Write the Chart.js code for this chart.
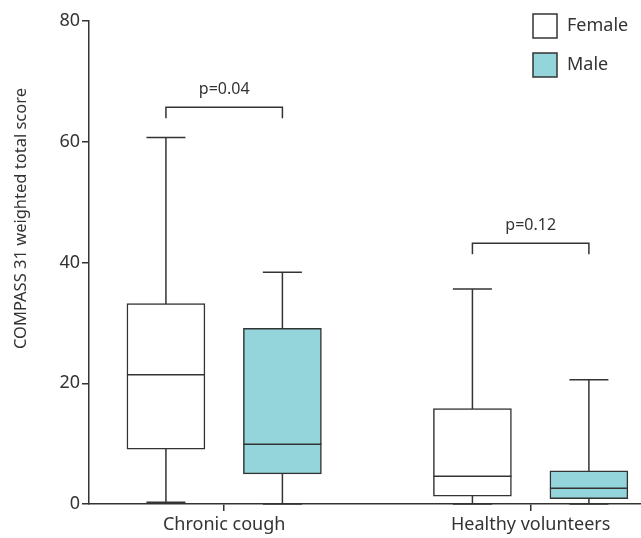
<!DOCTYPE html>
<html>
<head>
<meta charset="utf-8">
<script src="https://cdn.jsdelivr.net/npm/chart.js@4.4.0/dist/chart.umd.min.js"></script>
<style>
	html, body { margin: 0; padding: 0; background: #fff; }
	#wrap { width: 641px; height: 538px; }
</style>
</head>
<body>
<div id="wrap"><canvas id="chart"></canvas></div>
<script>
// Box plot summaries.
const groups = ['Chronic cough', 'Healthy volunteers'];
const seriesNames = ['Female', 'Male'];
const femaleMin = [0.3, 0];
const femaleQ1 = [9.1, 1.3];
const femaleMedian = [21.4, 4.6];
const femaleQ3 = [33.2, 15.8];
const femaleMax = [60.7, 35.6];
const maleMin = [0, 0];
const maleQ1 = [5.0, 0.9];
const maleMedian = [9.9, 2.6];
const maleQ3 = [29.1, 5.5];
const maleMax = [38.4, 20.6];
const pLabels = ['p=0.04', 'p=0.12'];
const bracketLevel = [65.7, 43.2];
const yTicks = [0, 20, 40, 60, 80];

(function() {
	'use strict';

	const FONT = "'Noto Sans', sans-serif";
	const INK = '#333333';
	const TEAL = '#93d5da';
	const boxOffset = 0.19;

	const stats = [
		{ min: femaleMin, q1: femaleQ1, med: femaleMedian, q3: femaleQ3, max: femaleMax },
		{ min: maleMin, q1: maleQ1, med: maleMedian, q3: maleQ3, max: maleMax }
	];
	const fills = ['#ffffff', TEAL];

	function line(ctx, x1, y1, x2, y2) {
		ctx.beginPath();
		ctx.moveTo(x1, y1);
		ctx.lineTo(x2, y2);
		ctx.stroke();
	}

	const boxExtras = {
		id: 'boxExtras',
		beforeDatasetsDraw(chart) {
			const ctx = chart.ctx;
			const y = chart.scales.y;
			ctx.save();
			ctx.strokeStyle = INK;
			ctx.lineWidth = 1.5;
			stats.forEach(function(s, d) {
				chart.getDatasetMeta(d).data.forEach(function(bar, i) {
					const half = bar.width / 4;
					const top = y.getPixelForValue(s.max[i]);
					const bot = y.getPixelForValue(s.min[i]);
					line(ctx, bar.x, top, bar.x, bot);
					line(ctx, bar.x - half, top, bar.x + half, top);
					line(ctx, bar.x - half, bot, bar.x + half, bot);
				});
			});
			ctx.restore();
		},
		afterDatasetsDraw(chart) {
			const ctx = chart.ctx;
			const y = chart.scales.y;
			ctx.save();
			ctx.strokeStyle = INK;
			ctx.lineWidth = 1.5;
			stats.forEach(function(s, d) {
				chart.getDatasetMeta(d).data.forEach(function(bar, i) {
					const py = y.getPixelForValue(s.med[i]);
					line(ctx, bar.x - bar.width / 2, py, bar.x + bar.width / 2, py);
				});
			});
			ctx.restore();
		},
		afterDraw(chart) {
			const ctx = chart.ctx;
			const y = chart.scales.y;
			const area = chart.chartArea;
			ctx.save();
			ctx.strokeStyle = INK;
			ctx.fillStyle = INK;
			ctx.lineWidth = 1.5;

			// Significance brackets.
			groups.forEach(function(g, i) {
				const a = chart.getDatasetMeta(0).data[i].x;
				const b = chart.getDatasetMeta(1).data[i].x;
				const top = y.getPixelForValue(bracketLevel[i]);
				ctx.beginPath();
				ctx.moveTo(a, top + 11);
				ctx.lineTo(a, top);
				ctx.lineTo(b, top);
				ctx.lineTo(b, top + 11);
				ctx.stroke();
				ctx.font = '16px ' + FONT;
				ctx.textAlign = 'center';
				ctx.textBaseline = 'middle';
				ctx.fillText(pLabels[i], (a + b) / 2, top - 18);
			});

			// Legend.
			ctx.font = '18px ' + FONT;
			ctx.textAlign = 'left';
			ctx.textBaseline = 'middle';
			seriesNames.forEach(function(name, i) {
				const by = 14 + i * 39;
				ctx.fillStyle = fills[i];
				ctx.fillRect(533, by, 24, 24);
				ctx.strokeRect(533, by, 24, 24);
				ctx.fillStyle = INK;
				ctx.fillText(name, 567, by + 12);
			});

			// Y axis title.
			ctx.translate(21, (area.top + area.bottom) / 2 - 44);
			ctx.rotate(-Math.PI / 2);
			ctx.font = '16.5px ' + FONT;
			ctx.textAlign = 'center';
			ctx.textBaseline = 'middle';
			ctx.fillText('COMPASS 31 weighted total score', 0, 0);
			ctx.restore();
		}
	};

	const datasets = stats.map(function(s, d) {
		return {
			label: seriesNames[d],
			data: groups.map(function(g, i) {
				return { x: i + 1 + (d === 0 ? -boxOffset : boxOffset), y: [s.q1[i], s.q3[i]] };
			}),
			backgroundColor: fills[d],
			borderColor: INK,
			borderWidth: 1.5,
			borderSkipped: false,
			grouped: false,
			barThickness: 78
		};
	});

	new Chart(document.getElementById('chart'), {
		type: 'bar',
		data: { datasets: datasets },
		plugins: [boxExtras],
		options: {
			responsive: true,
			maintainAspectRatio: false,
			animation: false,
			layout: { padding: { top: 21, right: 0, left: 0, bottom: 0 } },
			plugins: {
				legend: { display: false },
				tooltip: { enabled: false }
			},
			scales: {
				x: {
					type: 'linear',
					min: 0.559,
					max: 2.36,
					offset: false,
					afterFit: function(scale) { scale.height = 34; },
					afterBuildTicks: function(scale) {
						scale.ticks = groups.map(function(g, i) { return { value: i + 1 }; });
					},
					grid: {
						offset: false,
						drawOnChartArea: false,
						drawTicks: true,
						tickLength: 7,
						color: INK,
						lineWidth: 1.5
					},
					border: { color: INK, width: 1.5 },
					ticks: {
						color: INK,
						padding: 3,
						maxRotation: 0,
						autoSkip: false,
						font: { size: 18, family: FONT },
						callback: function(value) { return groups[Math.round(value) - 1]; }
					}
				},
				y: {
					min: 0,
					max: 80,
					afterFit: function(scale) { scale.width = 89; },
					afterBuildTicks: function(scale) {
						scale.ticks = yTicks.map(function(v) { return { value: v }; });
					},
					grid: {
						drawOnChartArea: false,
						drawTicks: true,
						tickLength: 7,
						color: INK,
						lineWidth: 1.5
					},
					border: { color: INK, width: 1.5 },
					ticks: {
						color: INK,
						padding: 2,
						font: { size: 18, family: FONT }
					}
				}
			}
		}
	});
})();
</script>
</body>
</html>
